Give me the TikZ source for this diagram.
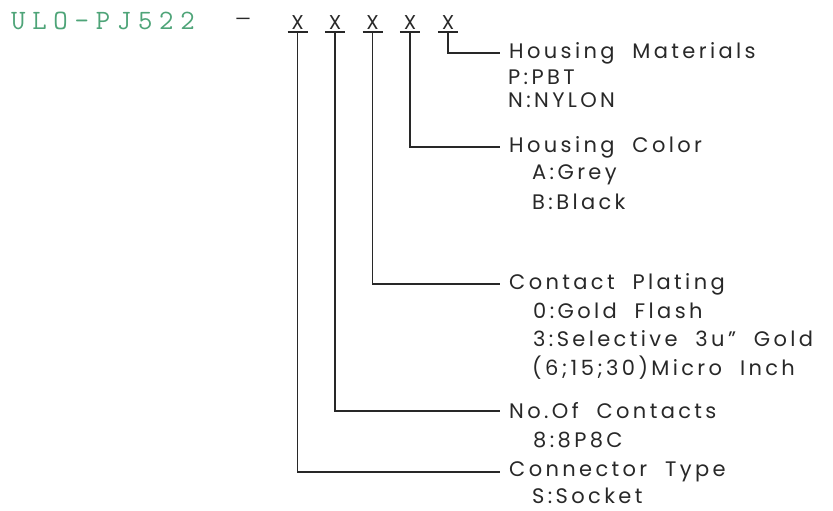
\documentclass[tikz,border=0pt]{standalone}
\usepackage{fontspec}
\setmainfont{Poppins}[LetterSpace=16]
\newfontfamily\codefont{Latin Modern Mono}[LetterSpace=24]
\usetikzlibrary{positioning}
\definecolor{codegreen}{RGB}{78,164,120}
\definecolor{leadgray}{RGB}{40,40,40}
\tikzstyle{part}=[inner sep=0pt, text=codegreen, font=\codefont\fontsize{28}{28}\selectfont]
\tikzstyle{digit}=[anchor=south, inner sep=0pt, minimum width=20pt, minimum height=18pt, text=leadgray, font=\fontsize{20}{20}\selectfont]
\tikzstyle{lead} = [draw=leadgray, line width=1.1pt]
\tikzstyle{field} = [anchor=west, inner sep=0pt, inner xsep=9pt, text=leadgray, font=\fontsize{21}{21}\selectfont]
\tikzstyle{choice} = [anchor=west, inner sep=0pt, text=leadgray, font=\fontsize{21}{21}\selectfont]

\begin{document}
\begin{tikzpicture}[x=1pt, y=-1pt]
				\useasboundingbox (0,0) rectangle (833,511);

				% First we write the part number
				\node[part, anchor=west] (code) at (11,21) {ULO-PJ522};
				\node[inner sep=0pt, text=leadgray, font=\fontsize{18}{18}\selectfont] (dash) at (243,22) {—};

				% Then the five code letters, each with its bar
				\foreach \pos/\name in {{(297.7,32)/x1}, {(335,32)/x2}, {(372.7,32)/x3},
										{(410,32)/x4}, {(448,32)/x5}}
				{
					\node[digit] (\name) at \pos {X};
					\path[lead] (\name.south west) -- (\name.south east);
				}

				% Field names
				\foreach \pos/\name/\text in {{(500,53)/mat/Housing~~Materials}, {(500,147)/col/Housing~~Color},
										{(500,284)/plt/Contact~~Plating}, {(500,411)/cnt/No.Of~~Contacts},
										{(500,472)/typ/Connector~~Type}}
				\node[field] (\name) at \pos {\text};

				% Choices below each field
				\foreach \pos/\name/\text in {{(508,77)/mat1/P:PBT}, {(508,100)/mat2/N:NYLON},
										{(532,175)/col1/A:Grey}, {(532,202)/col2/B:Black},
										{(533,311)/plt1/0:Gold~~Flash}, {(533,339)/plt2/3:Selective~~3u”~~Gold},
										{(532,368)/plt3/(6;15;30)Micro~~Inch}, {(533,440)/cnt1/8:8P8C},
										{(532,496)/typ1/S:Socket}}
				\node[choice] (\name) at \pos {\text};

				% Connect letters with fields
				\foreach \source/ \dest in {x1/typ, x2/cnt, x3/plt, x4/col, x5/mat}
				\path[lead] (\source.south) |- (\dest.west);

			\end{tikzpicture}
\end{document}
